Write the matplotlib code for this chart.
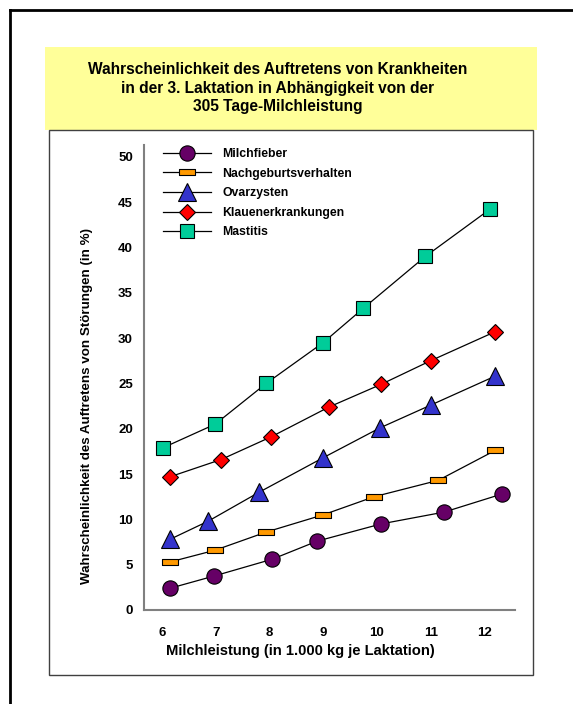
import numpy as np
import matplotlib.pyplot as plt
from matplotlib.patches import Rectangle
from matplotlib.lines import Line2D

plt.rcParams['font.family'] = ['Liberation Sans', 'DejaVu Sans']
plt.rcParams['font.weight'] = 'bold'

# Milchleistung (1000 kg) und Wahrscheinlichkeit (%) je Stoerung
milch_x = [6.15, 6.97, 8.05, 8.89, 10.08, 11.25, 12.33]
milch_y = [2.4, 3.75, 5.6, 7.6, 9.5, 10.8, 12.8]

nachg_x = [6.15, 6.99, 7.94, 9.0, 9.95, 11.14, 12.2]
nachg_y = [5.3, 6.6, 8.6, 10.5, 12.5, 14.3, 17.6]

ovar_x = [6.15, 6.86, 7.81, 9.0, 10.06, 11.0, 12.2]
ovar_y = [7.8, 9.8, 13.0, 16.8, 20.1, 22.6, 25.8]

klauen_x = [6.15, 7.1, 8.03, 9.11, 10.08, 11.0, 12.2]
klauen_y = [14.7, 16.6, 19.1, 22.4, 24.9, 27.5, 30.7]

mast_x = [6.02, 6.99, 7.94, 9.0, 9.75, 10.9, 12.1]
mast_y = [17.9, 20.5, 25.0, 29.5, 33.3, 39.0, 44.2]

labels = ["Milchfieber", "Nachgeburtsverhalten", "Ovarzysten",
          "Klauenerkrankungen", "Mastitis"]
x_ticks = [6, 7, 8, 9, 10, 11, 12]
y_ticks = [0, 5, 10, 15, 20, 25, 30, 35, 40, 45, 50]

W, H = 573, 704
fig = plt.figure(figsize=(W / 100, H / 100), dpi=100)

def box(x0, y0, x1, y1, **kw):
    # rectangle in pixel coords (origin top-left), kept behind the axes
    r = Rectangle((x0 / W, 1 - y1 / H), (x1 - x0) / W, (y1 - y0) / H,
                  transform=fig.transFigure, zorder=-10, **kw)
    fig.patches.append(r)

# outer frame, only left and top visible
fig.add_artist(Line2D([10 / W, 10 / W], [0, 1 - 10 / H], transform=fig.transFigure,
                      color='black', lw=2))
fig.add_artist(Line2D([10 / W, 1], [1 - 10 / H, 1 - 10 / H], transform=fig.transFigure,
                      color='black', lw=2))

box(45, 47, 537, 130, facecolor='#FFFF99', edgecolor='none')
box(49, 130, 533, 675, facecolor='white', edgecolor='#404040', lw=1)

fig.text(278 / W, 1 - 88 / H,
         "Wahrscheinlichkeit des Auftretens von Krankheiten\n"
         "in der 3. Laktation in Abhängigkeit von der\n"
         "305 Tage-Milchleistung",
         ha='center', va='center', fontsize=11.2, fontweight='bold',
         linespacing=1.3)

ax = fig.add_axes([144 / W, 1 - 610 / H, (515 - 144) / W, (610 - 145) / H])
ax.patch.set_visible(False)
ax.set_xlim(5.665, 12.57)
ax.set_ylim(0, 51.3)

rect = [(-1, -0.4), (1, -0.4), (1, 0.4), (-1, 0.4), (-1, -0.4)]
ax.plot(milch_x, milch_y, color='black', lw=0.9, marker='o', ms=11,
        mfc='#660066', mec='black', mew=0.8, label=labels[0])
ax.plot(nachg_x, nachg_y, color='black', lw=0.9, marker=rect, ms=12,
        mfc='#FF9900', mec='black', mew=0.8, label=labels[1])
ax.plot(ovar_x, ovar_y, color='black', lw=0.9, marker='^', ms=12.5,
        mfc='#3333CC', mec='black', mew=0.8, label=labels[2])
ax.plot(klauen_x, klauen_y, color='black', lw=0.9, marker='D', ms=8.5,
        mfc='#FF0000', mec='black', mew=0.8, label=labels[3])
ax.plot(mast_x, mast_y, color='black', lw=0.9, marker='s', ms=10,
        mfc='#00CC99', mec='black', mew=0.8, label=labels[4])

ax.set_xticks(x_ticks)
ax.set_yticks(y_ticks)
ax.tick_params(length=0, labelsize=9.5)
ax.tick_params(axis='x', pad=12)
ax.tick_params(axis='y', pad=8)
for t in ax.get_xticklabels() + ax.get_yticklabels():
    t.set_fontweight('bold')
for s in ['top', 'right']:
    ax.spines[s].set_visible(False)
for s in ['left', 'bottom']:
    ax.spines[s].set_color('#808080')
    ax.spines[s].set_linewidth(1.5)

ax.set_xlabel("Milchleistung (in 1.000 kg je Laktation)", fontsize=10.6,
              fontweight='bold')
ax.xaxis.set_label_coords((300 - 144) / 371, -(651 - 610) / 465)
ax.set_ylabel("Wahrscheinlichkeit des Auftretens von Störungen (in %)",
              fontsize=9.6, fontweight='bold')
ax.yaxis.set_label_coords((87 - 144) / 371, (610 - 406) / 465)
ax.xaxis.label.set_va('center')
ax.yaxis.label.set_va('center')

ax.legend(loc='upper left', bbox_to_anchor=(157 / W, 1 - 142 / H),
          bbox_transform=fig.transFigure, frameon=False,
          handlelength=3.9, handletextpad=0.95, labelspacing=0.62,
          borderpad=0, prop={'weight': 'bold', 'size': 8.8})

fig.savefig("out.png", dpi=100)
